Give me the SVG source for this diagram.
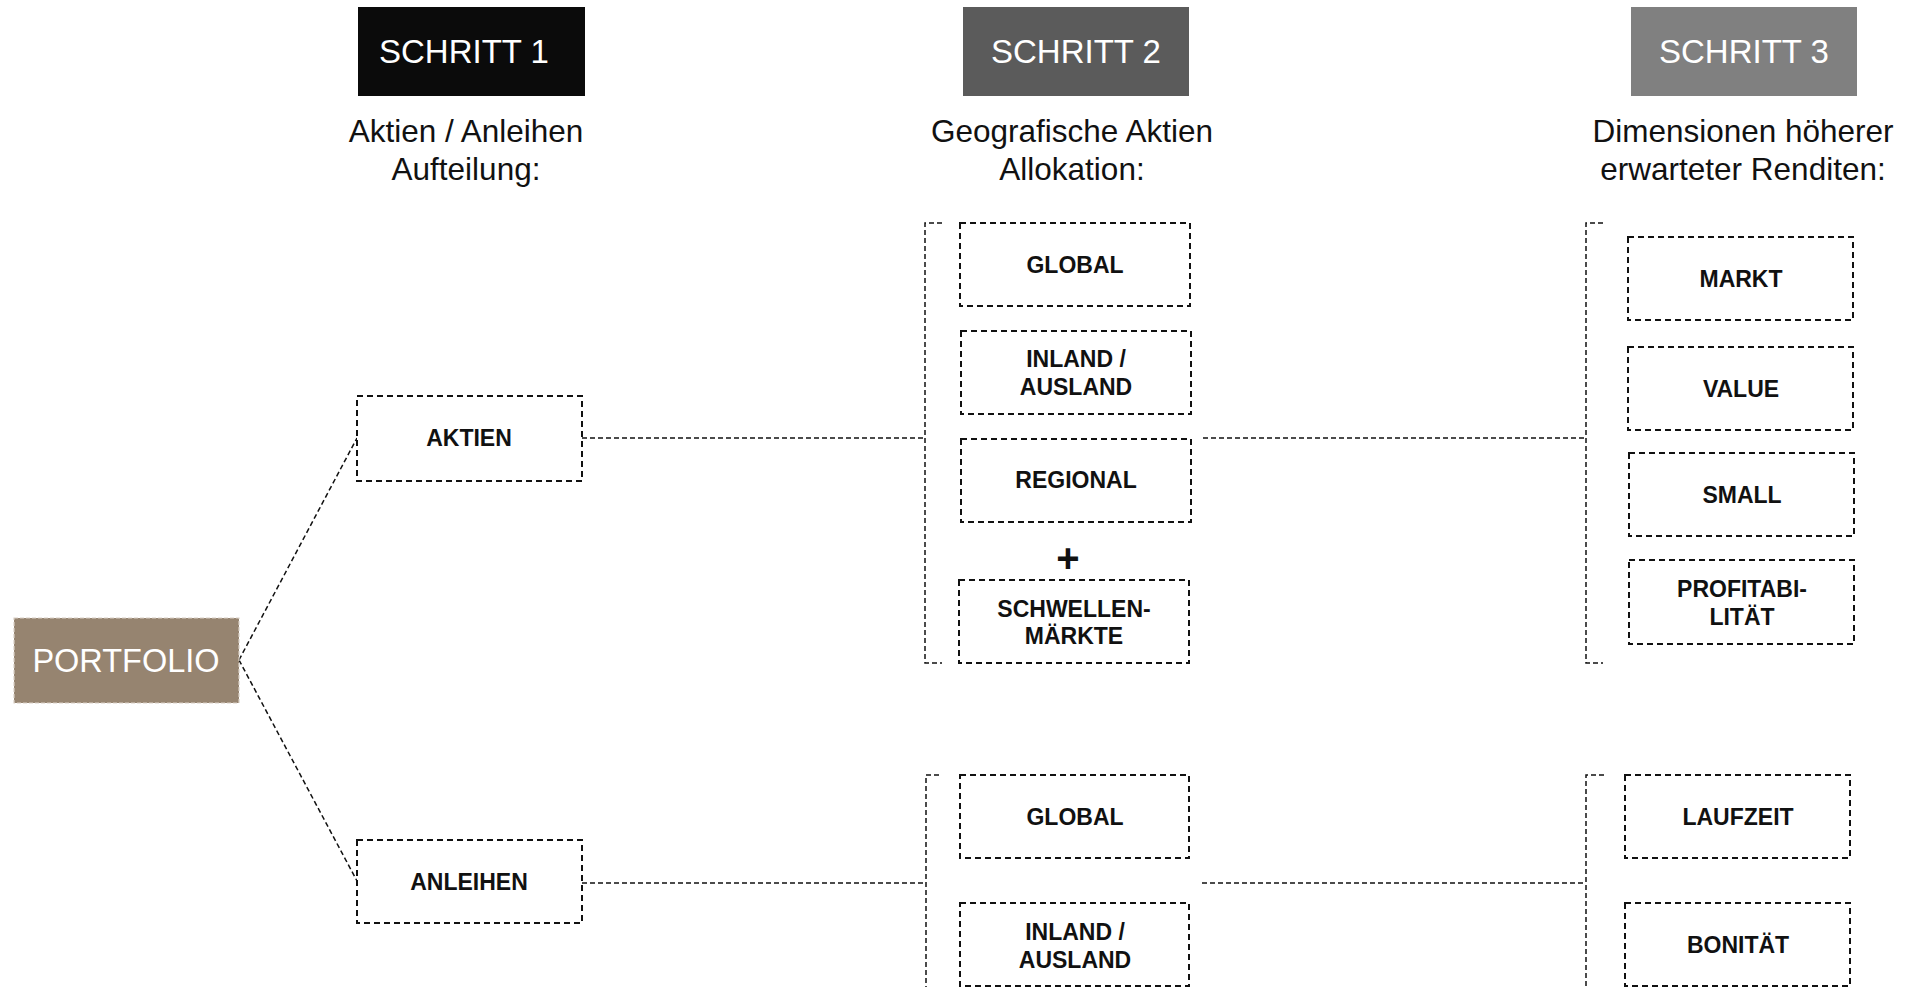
<svg xmlns="http://www.w3.org/2000/svg" width="1908" height="987" viewBox="0 0 1908 987">
<style>
text{font-family:"Liberation Sans",Arial,sans-serif}
.hd{fill:#fff;font-size:33px;text-anchor:middle}
.sub{fill:#111;font-size:31.5px;text-anchor:middle}
.box{fill:#fff;stroke:#111;stroke-width:2;stroke-dasharray:6 4}
.lbl{fill:#111;font-size:23px;font-weight:bold;text-anchor:middle}
.con{fill:none;stroke:#111;stroke-width:1.5;stroke-dasharray:5 3}
</style>
<rect width="1908" height="987" fill="#fff"/>
<g id="header1"><rect x="358" y="7" width="227" height="89" fill="#0b0b0b"/><text class="hd" x="464" y="63">SCHRITT 1</text></g>
<g id="header2"><rect x="963" y="7" width="226" height="89" fill="#5b5b5b"/><text class="hd" x="1076" y="63">SCHRITT 2</text></g>
<g id="header3"><rect x="1631" y="7" width="226" height="89" fill="#808080"/><text class="hd" x="1744" y="63">SCHRITT 3</text></g>
<g id="sub1"><text class="sub" x="466" y="142">Aktien / Anleihen</text><text class="sub" x="466" y="180">Aufteilung:</text></g>
<g id="sub2"><text class="sub" x="1072" y="142">Geografische Aktien</text><text class="sub" x="1072" y="180">Allokation:</text></g>
<g id="sub3"><text class="sub" x="1743" y="142">Dimensionen höherer</text><text class="sub" x="1743" y="180">erwarteter Renditen:</text></g>

<g id="connectors">
<path class="con" d="M239 660 L357 438 M239 660 L357 881"/>
<path class="con" d="M582 438 H925 M942 223 H925 V663 H942 M1203 438 H1586 M1603 223 H1586 V663 H1603"/>
<path class="con" d="M582 883 H926 M939 775 H926 V987 M1202 883 H1586 M1604 775 H1586 V987"/>
</g>

<g id="portfolio"><rect x="14" y="618" width="225" height="85" fill="#968470" stroke="#d9d0c6" stroke-width="1.2" stroke-dasharray="4 2"/><text x="126" y="672" fill="#fff" font-size="32.5" text-anchor="middle">PORTFOLIO</text></g>
<g id="aktien"><rect class="box" x="357" y="396" width="225" height="85"/><text class="lbl" x="469" y="446">AKTIEN</text></g>
<g id="anleihen"><rect class="box" x="357" y="840" width="225" height="83"/><text class="lbl" x="469" y="890">ANLEIHEN</text></g>

<g id="a-global"><rect class="box" x="960" y="223" width="230" height="83"/><text class="lbl" x="1075" y="273">GLOBAL</text></g>
<g id="a-inland"><rect class="box" x="961" y="331" width="230" height="83"/><text class="lbl" x="1076" y="367">INLAND /</text><text class="lbl" x="1076" y="395">AUSLAND</text></g>
<g id="a-regional"><rect class="box" x="961" y="439" width="230" height="83"/><text class="lbl" x="1076" y="488">REGIONAL</text></g>
<text id="plus" x="1068" y="572" font-size="40" font-weight="bold" text-anchor="middle" fill="#111">+</text>
<g id="a-schwellen"><rect class="box" x="959" y="580" width="230" height="83"/><text class="lbl" x="1074" y="617">SCHWELLEN-</text><text class="lbl" x="1074" y="644">MÄRKTE</text></g>

<g id="markt"><rect class="box" x="1628" y="237" width="225" height="83"/><text class="lbl" x="1741" y="287">MARKT</text></g>
<g id="value"><rect class="box" x="1628" y="347" width="225" height="83"/><text class="lbl" x="1741" y="397">VALUE</text></g>
<g id="small"><rect class="box" x="1629" y="453" width="225" height="83"/><text class="lbl" x="1742" y="503">SMALL</text></g>
<g id="profit"><rect class="box" x="1629" y="560" width="225" height="84"/><text class="lbl" x="1742" y="597">PROFITABI-</text><text class="lbl" x="1742" y="625">LITÄT</text></g>

<g id="b-global"><rect class="box" x="960" y="775" width="229" height="83"/><text class="lbl" x="1075" y="825">GLOBAL</text></g>
<g id="b-inland"><rect class="box" x="960" y="903" width="229" height="83"/><text class="lbl" x="1075" y="940">INLAND /</text><text class="lbl" x="1075" y="968">AUSLAND</text></g>
<g id="laufzeit"><rect class="box" x="1625" y="775" width="225" height="83"/><text class="lbl" x="1738" y="825">LAUFZEIT</text></g>
<g id="bonitaet"><rect class="box" x="1625" y="903" width="225" height="83"/><text class="lbl" x="1738" y="953">BONITÄT</text></g>
</svg>
